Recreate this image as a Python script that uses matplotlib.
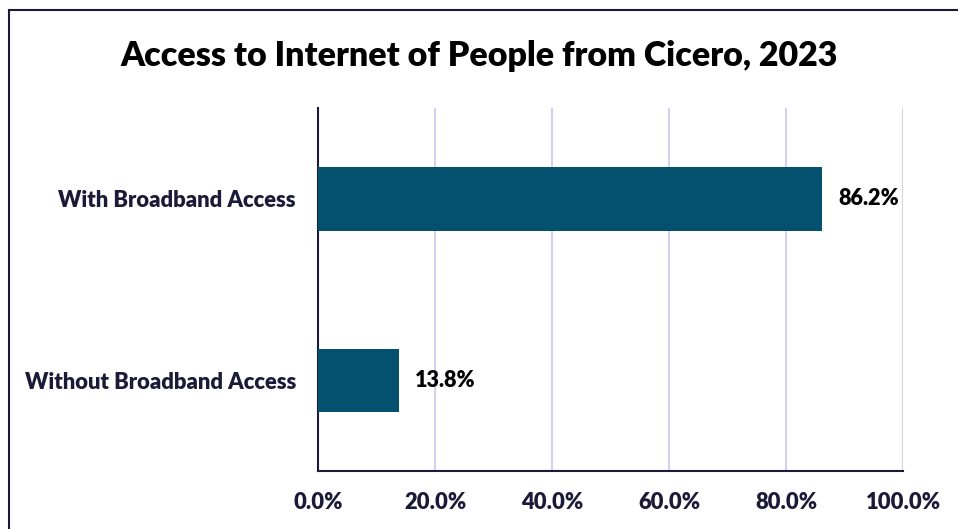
import matplotlib.pyplot as plt
from matplotlib.patches import Rectangle

categories = ["Without Broadband Access", "With Broadband Access"]
values = [13.8, 86.2]
ticks = [0, 20, 40, 60, 80, 100]
tick_labels = ["0.0%", "20.0%", "40.0%", "60.0%", "80.0%", "100.0%"]

plt.rcParams['font.family'] = ['Lato', 'DejaVu Sans']
navy = "#1b1a38"
weight = "heavy"

fig = plt.figure(figsize=(9.58, 5.29), dpi=100)
ax = fig.add_axes([0.332, 0.1096, 0.6106, 0.6862])

ax.barh(range(len(categories)), values, height=0.35, color="#03506f", zorder=3)
for i, v in enumerate(values):
    ax.text(v + 2.7, i, f"{v:.1f}%", va="center", ha="left",
            fontsize=15.6, fontweight=weight, color="black")

ax.set_xlim(0, 100)
ax.set_ylim(-0.5, 1.5)
ax.set_xticks(ticks)
ax.set_xticklabels(tick_labels, fontsize=15.8, fontweight=weight, color=navy)
ax.set_yticks(range(len(categories)))
ax.set_yticklabels(categories, fontsize=15.8, fontweight=weight, color=navy)
ax.tick_params(axis="x", length=0, pad=15)
ax.tick_params(axis="y", length=0, pad=16)
ax.grid(axis="x", color="#d4d0ee", linewidth=1.5, zorder=0)
for s in ["top", "right"]:
    ax.spines[s].set_visible(False)
for s in ["left", "bottom"]:
    ax.spines[s].set_color(navy)
    ax.spines[s].set_linewidth(1.5)

fig.text(0.5, 0.894, "Access to Internet of People from Cicero, 2023",
         ha="center", va="center", fontsize=24.5, fontweight=weight, color="black")

# outer frame
fig.patches.append(Rectangle((9 / 958, -0.1), 1.2, 1 - 10 / 529 + 0.1,
                             transform=fig.transFigure, fill=False,
                             edgecolor=navy, linewidth=1.5))

fig.savefig("out.png", dpi=100)
